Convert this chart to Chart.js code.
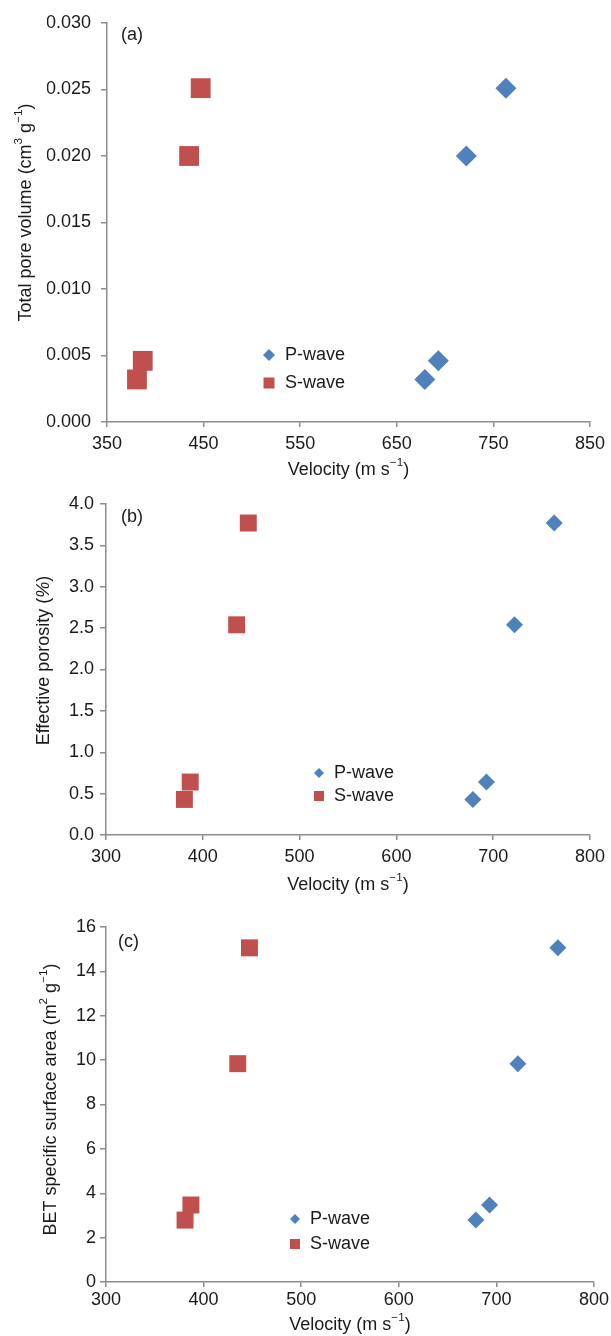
<!DOCTYPE html>
<html>
<head>
<meta charset="utf-8">
<script src="https://cdn.jsdelivr.net/npm/chart.js@4.4.1/dist/chart.umd.min.js"></script>
<style>
    body { margin: 0; background: #fff; }
    canvas { position: absolute; left: 0; }
</style>
</head>
<body>
<canvas id="chartA" width="611" height="480" style="top:0px"></canvas>
<canvas id="chartB" width="611" height="420" style="top:480px"></canvas>
<canvas id="chartC" width="611" height="446" style="top:890px"></canvas>
<script>
// Velocities of the four samples (m/s)
const velocityP = [763, 722, 693, 679];
const velocityS = [447, 435, 387, 381];

// Sample properties
const poreVolume = [0.0251, 0.0200, 0.0046, 0.0032];
const porosity = [3.77, 2.54, 0.64, 0.43];
const betArea = [15.06, 9.84, 3.47, 2.79];

// Axis ticks
const xTicksA = [350, 450, 550, 650, 750, 850];
const yTicksA = [0, 0.005, 0.010, 0.015, 0.020, 0.025, 0.030];
const xTicksBC = [300, 400, 500, 600, 700, 800];
const yTicksB = [0, 0.5, 1.0, 1.5, 2.0, 2.5, 3.0, 3.5, 4.0];
const yTicksC = [0, 2, 4, 6, 8, 10, 12, 14, 16];

const seriesNames = ['P-wave', 'S-wave'];

const blue = '#4f81bd';
const red = '#c0504d';
const textColor = '#1a1a1a';
const axisColor = '#8c8c8c';
const fontFamily = '"Liberation Sans", Arial, Helvetica, sans-serif';

function pontos(xs, ys) {
    return xs.map((x, i) => ({ x: x, y: ys[i] }));
}

function fonte(p, size) {
    return (p.italic ? 'italic ' : '') + (p.sup ? size * 0.65 : size) + 'px ' + fontFamily;
}

// draws text with superscript parts, centred on (cx, cy)
function drawRich(ctx, parts, cx, cy, size) {
    let total = 0;
    parts.forEach(p => {
        ctx.font = fonte(p, size);
        p.w = ctx.measureText(p.t).width;
        total += p.w;
    });
    let x = cx - total / 2;
    ctx.textAlign = 'left';
    ctx.textBaseline = 'middle';
    parts.forEach(p => {
        ctx.font = fonte(p, size);
        ctx.fillText(p.t, x, p.sup ? cy - size * 0.42 : cy);
        x += p.w;
    });
}

const xTitle = [{ t: 'Velocity (m s' }, { t: '\u22121', sup: true }, { t: ')' }];

const extras = {
    id: 'extras',
    afterDraw(chart, args, o) {
        const ctx = chart.ctx;
        const a = chart.chartArea;
        ctx.save();
        ctx.fillStyle = textColor;
        drawRich(ctx, xTitle, (a.left + a.right) / 2, a.bottom + o.xTitleOff, 18);
        ctx.save();
        ctx.translate(o.yTitleX, (a.top + a.bottom) / 2 + o.yTitleShift);
        ctx.rotate(-Math.PI / 2);
        drawRich(ctx, o.yTitle, 0, 0, 18);
        ctx.restore();

        ctx.font = '18px ' + fontFamily;
        ctx.textAlign = 'left';
        ctx.textBaseline = 'middle';
        ctx.fillText(o.panel, a.left + o.panelPos[0], a.top + o.panelPos[1]);

        // legend
        const lx = a.left + o.legend[0];
        const ly = a.top + o.legend[1];
        const r = o.legendDiamond;
        ctx.fillStyle = blue;
        ctx.beginPath();
        ctx.moveTo(lx - r, ly);
        ctx.lineTo(lx, ly - r);
        ctx.lineTo(lx + r, ly);
        ctx.lineTo(lx, ly + r);
        ctx.closePath();
        ctx.fill();
        const s = o.legendSquare;
        ctx.fillStyle = red;
        ctx.fillRect(lx - s / 2, ly + o.legendGap - s / 2, s, s);
        ctx.fillStyle = textColor;
        ctx.fillText(seriesNames[0], lx + o.legendText, ly);
        ctx.fillText(seriesNames[1], lx + o.legendText, ly + o.legendGap);
        ctx.restore();
    }
};

function criarGrafico(cfg) {
    const ctx = document.getElementById(cfg.id).getContext('2d');
    return new Chart(ctx, {
        type: 'scatter',
        data: {
            datasets: [
                {
                    label: seriesNames[0],
                    data: pontos(velocityP, cfg.values),
                    pointStyle: 'rectRot',
                    pointRadius: cfg.diamondR,
                    backgroundColor: blue,
                    borderColor: blue,
                    borderWidth: 0
                },
                {
                    label: seriesNames[1],
                    data: pontos(velocityS, cfg.values),
                    pointStyle: 'rect',
                    pointRadius: cfg.squareR,
                    backgroundColor: red,
                    borderColor: red,
                    borderWidth: 0
                }
            ]
        },
        options: {
            responsive: false,
            animation: false,
            layout: { padding: cfg.padding },
            plugins: {
                legend: { display: false },
                tooltip: { enabled: false },
                extras: cfg.extras
            },
            scales: {
                x: {
                    type: 'linear',
                    min: cfg.xTicks[0],
                    max: cfg.xTicks[cfg.xTicks.length - 1],
                    afterBuildTicks: s => { s.ticks = cfg.xTicks.map(v => ({ value: v })); },
                    afterFit: s => { s.height = 30; },
                    grid: { drawOnChartArea: false, tickLength: 5, color: axisColor, lineWidth: 1.5 },
                    border: { color: axisColor, width: 1.5 },
                    ticks: {
                        color: textColor,
                        padding: cfg.xPad,
                        maxRotation: 0,
                        font: { family: fontFamily, size: 18 },
                        callback: v => String(v)
                    }
                },
                y: {
                    min: cfg.yTicks[0],
                    max: cfg.yTicks[cfg.yTicks.length - 1],
                    afterBuildTicks: s => { s.ticks = cfg.yTicks.map(v => ({ value: v })); },
                    afterFit: s => { s.width = 60; },
                    grid: { drawOnChartArea: false, tickLength: 6, color: axisColor, lineWidth: 1.5 },
                    border: { color: axisColor, width: 1.5 },
                    ticks: {
                        color: textColor,
                        padding: cfg.yPad,
                        font: { family: fontFamily, size: 18 },
                        callback: v => v.toFixed(cfg.decimals)
                    }
                }
            }
        },
        plugins: [extras]
    });
}

criarGrafico({
    id: 'chartA', values: poreVolume, xTicks: xTicksA, yTicks: yTicksA, decimals: 3,
    padding: { left: 47, top: 23, right: 20, bottom: 28 },
    diamondR: 10.5, squareR: 14, xPad: 6, yPad: 10,
    extras: {
        panel: '(a)', panelPos: [14, 12], xTitleOff: 48, yTitleX: 26, yTitleShift: -10,
        yTitle: [{ t: 'Total pore volume (cm' }, { t: '3', sup: true }, { t: ' g' }, { t: '\u22121', sup: true }, { t: ')' }],
        legend: [162, 332], legendGap: 28, legendText: 16, legendDiamond: 6, legendSquare: 11
    }
});

criarGrafico({
    id: 'chartB', values: porosity, xTicks: xTicksBC, yTicks: yTicksB, decimals: 1,
    padding: { left: 46, top: 24, right: 19, bottom: 35 },
    diamondR: 8.5, squareR: 12, xPad: 6, yPad: 6,
    extras: {
        panel: '(b)', panelPos: [15, 13], xTitleOff: 50, yTitleX: 44, yTitleShift: -9,
        yTitle: [{ t: 'Effective porosity (' }, { t: '%', italic: true }, { t: ')' }],
        legend: [213, 269], legendGap: 23, legendText: 15, legendDiamond: 5, legendSquare: 10
    }
});

criarGrafico({
    id: 'chartC', values: betArea, xTicks: xTicksBC, yTicks: yTicksC, decimals: 0,
    padding: { left: 46, top: 37, right: 17, bottom: 24 },
    diamondR: 8.5, squareR: 12, xPad: 2, yPad: 4,
    extras: {
        panel: '(c)', panelPos: [12, 15], xTitleOff: 43, yTitleX: 51, yTitleShift: -5,
        yTitle: [{ t: 'BET specific surface area (m' }, { t: '2', sup: true }, { t: ' g' }, { t: '\u22121', sup: true }, { t: ')' }],
        legend: [189, 292], legendGap: 25, legendText: 15, legendDiamond: 5, legendSquare: 10
    }
});
</script>
</body>
</html>
